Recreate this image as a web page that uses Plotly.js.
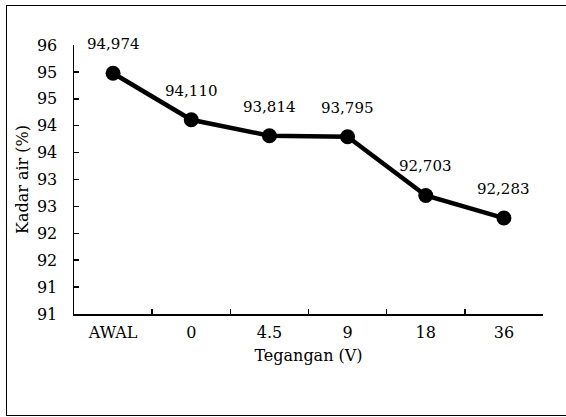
<!DOCTYPE html>
<html>
<head>
<meta charset="utf-8">
<script src="https://cdn.plot.ly/plotly-3.0.1.min.js"></script>
<style>
  html, body { margin: 0; padding: 0; background: #fff; overflow: hidden; }
  #frame { position: absolute; left: 6px; top: 5px; width: 580px; height: 409px; border: 1.5px solid #000; pointer-events: none; }
  #chart { position: absolute; left: 0; top: 0; width: 566px; height: 417px; }
</style>
</head>
<body>
<div id="chart"></div>
<div id="frame"></div>
<script>
const categories = ["AWAL", "0", "4.5", "9", "18", "36"];
const kadarAir = [94.974, 94.110, 93.814, 93.795, 92.703, 92.283];
const dataLabels = ["94,974", "94,110", "93,814", "93,795", "92,703", "92,283"];
const yTickVals = [90.5, 91, 91.5, 92, 92.5, 93, 93.5, 94, 94.5, 95, 95.5];
const yTickText = ["91", "91", "92", "92", "93", "93", "94", "94", "95", "95", "96"];

const fontFam = "DejaVu Serif, Liberation Serif, serif";

const trace = {
  x: categories,
  y: kadarAir,
  type: "scatter",
  mode: "lines+markers",
  line: { color: "#000", width: 4.5 },
  marker: { color: "#000", size: 15 },
  hoverinfo: "skip"
};

// annotations placed by category index on the category axis
const annotations = categories.map((c, i) => ({
  x: i, y: kadarAir[i], xref: "x", yref: "y",
  text: dataLabels[i], showarrow: false,
  yshift: 29, yanchor: "middle", xanchor: "center",
  font: { family: fontFam, size: 15, color: "#000" }
}));

const layout = {
  width: 566, height: 417,
  margin: { l: 74, r: 23, t: 45, b: 103 },
  paper_bgcolor: "#fff", plot_bgcolor: "#fff",
  showlegend: false,
  font: { family: fontFam, size: 16, color: "#000" },
  xaxis: {
    type: "category",
    categoryorder: "array", categoryarray: categories,
    range: [-0.5, categories.length - 0.5],
    showgrid: false, zeroline: false,
    showline: true, linecolor: "#000", linewidth: 1.5,
    ticks: "inside", ticklen: 5, tickwidth: 1.5, tickcolor: "#000",
    tickson: "boundaries", tickangle: 0,
    ticklabelstandoff: 3,
    title: { text: "Tegangan (V)", standoff: 9, font: { family: fontFam, size: 16 } },
    fixedrange: true
  },
  yaxis: {
    range: [90.5, 95.5],
    tickvals: yTickVals, ticktext: yTickText,
    showgrid: false, zeroline: false,
    showline: true, linecolor: "#000", linewidth: 1.5,
    ticks: "inside", ticklen: 5, tickwidth: 1.5, tickcolor: "#000",
    ticklabelstandoff: 12,
    title: { text: "Kadar air (%)", standoff: 4, font: { family: fontFam, size: 16 } },
    fixedrange: true
  },
  annotations: annotations
};

Plotly.newPlot("chart", [trace], layout, { displayModeBar: false, staticPlot: true });
</script>
</body>
</html>
